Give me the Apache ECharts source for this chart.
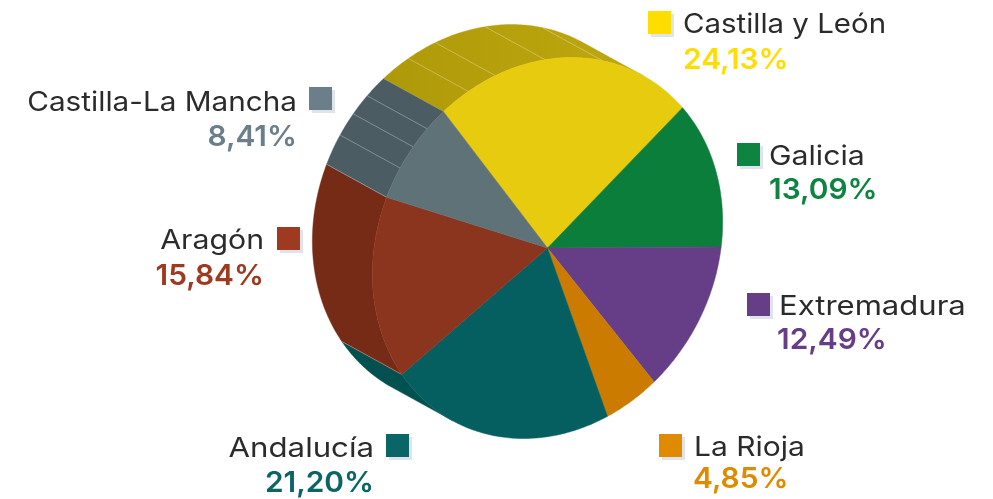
<!DOCTYPE html>
<html><head><meta charset="utf-8">
<style>html,body{margin:0;padding:0;background:#fff}#c{width:993px;height:499px}</style>
<script src="https://cdn.jsdelivr.net/npm/echarts@6/dist/echarts.min.js"></script>
</head><body><div id="c"></div>
<script>
// --- data ---
const regions = ['Castilla y León','Galicia','Extremadura','La Rioja','Andalucía','Aragón','Castilla-La Mancha'];
const shares = [24.13,13.09,12.49,4.85,21.20,15.84,8.41];
const shareLabels = ['24,13%','13,09%','12,49%','4,85%','21,20%','15,84%','8,41%'];
// --- style ---
const keyColors = ['#FFDD00','#0D8440','#663D87','#E08A00','#0A6566','#9D3A20','#6A7F8A'];
const faceColors = ['#E6CB0E','#0C7E3C','#663D87','#CA7B00','#055F60','#8B351E','#5F7278'];
const sideColors = ['#B7A10C','#09602E','#4E2F68','#9A5E00','#02504F','#752B15','#4B5D63'];
const seams = [[0.11,0.22,0.41,0.63],[],[],[],[],[],[0.31,0.55,0.77]];
// --- layout ---
const CX=547.5, CY=248, R=173.5, RY=190.5, SHEAR=24, DX=-60, DY=-33;
const keys = [
 {x:648,y:11,tx:683,ty:38,vx:683,vy:75,sx:1.09,al:'left'},
 {x:737,y:143,tx:769,ty:170,vx:769,vy:205,sx:1.12,al:'left'},
 {x:747,y:293,tx:779,ty:320,vx:777,vy:355,sx:1.15,al:'left'},
 {x:659,y:434,tx:694,ty:461,vx:693,vy:494,sx:1.11,al:'left'},
 {x:386,y:434,tx:374,ty:462,vx:374,vy:498,sx:1.155,al:'right'},
 {x:277,y:227,tx:264,ty:254,vx:264,vy:291,sx:1.12,al:'right'},
 {x:309,y:87,tx:297,ty:116,vx:297,vy:152,sx:1.10,al:'right'}
];
const total = shares.reduce((a,b)=>a+b,0);
let run=0;
const rows = shares.map((v,i)=>{const r=[1,run,run+v,i];run+=v;return r;});

function project(api,ang){
  const p=api.coord([1,ang]);
  const ux=(p[0]-CX)/R, uy=(p[1]-CY)/R;
  return [CX+R*ux-SHEAR*uy, CY+RY*uy];
}
function arc(api,a,b){
  const n=Math.max(2,Math.ceil((b-a)/0.2)),o=[];
  for(let k=0;k<=n;k++)o.push(project(api,a+(b-a)*k/n));
  return o;
}
// only the part of a slice's rim that faces the extrusion direction is visible
function visibleRuns(pts){
  const out=[];let cur=null;
  for(let k=0;k<pts.length-1;k++){
    const tx=pts[k+1][0]-pts[k][0],ty=pts[k+1][1]-pts[k][1];
    if(tx*DY-ty*DX<0){ if(!cur){cur=[pts[k]];out.push(cur);} cur.push(pts[k+1]); }
    else cur=null;
  }
  return out;
}
function renderSide(params,api){
  const a=api.value(1),b=api.value(2),i=api.value(3);
  const col=sideColors[i];
  const fill=i===0?{type:'linear',x:0,y:0,x2:1,y2:0,colorStops:[{offset:0,color:'#AE9909'},{offset:1,color:'#BFA80E'}]}:col;
  const children=[];
  visibleRuns(arc(api,a,b)).forEach(front=>{
    const back=front.slice().reverse().map(p=>[p[0]+DX,p[1]+DY]);
    children.push({type:'polygon',shape:{points:front.concat(back)},style:{fill:fill,stroke:col,lineWidth:0.4}});
  });
  const lineStyle={stroke:'rgba(255,255,255,0.3)',lineWidth:1};
  seams[i].concat(children.length?[0]:[]).forEach(f=>{
    const p=project(api,a+(b-a)*f);
    children.push({type:'line',shape:{x1:p[0],y1:p[1],x2:p[0]+DX,y2:p[1]+DY},style:lineStyle});
  });
  return {type:'group',children};
}
function renderFace(params,api){
  const a=api.value(1),b=api.value(2),i=api.value(3);
  return {type:'polygon',shape:{points:[[CX,CY]].concat(arc(api,a,b))},
    style:{fill:faceColors[i],stroke:faceColors[i],lineWidth:0.5}};
}
const FONT='Inter';
const graphics=[];
regions.forEach((name,i)=>{
  const k=keys[i];
  graphics.push({type:'rect',shape:{x:k.x+3,y:k.y+3,width:23,height:23},style:{fill:'#DEE3EC'},z:5});
  graphics.push({type:'rect',shape:{x:k.x,y:k.y,width:23,height:23},style:{fill:keyColors[i]},z:6});
  graphics.push({type:'text',x:k.tx,y:k.ty,scaleX:k.sx,z:6,style:{text:name,font:'400 27px '+FONT,fill:'#2B2B2B',textAlign:k.al,textVerticalAlign:'bottom'}});
  graphics.push({type:'text',x:k.vx,y:k.vy,scaleX:1.03,z:6,style:{text:shareLabels[i],font:'600 29px '+FONT,fill:keyColors[i],textAlign:k.al,textVerticalAlign:'bottom'}});
});
const chart=echarts.init(document.getElementById('c'),null,{renderer:'canvas'});
chart.setOption({
  animation:false,
  backgroundColor:'#fff',
  polar:{center:[CX,CY],radius:R},
  angleAxis:{type:'value',min:0,max:total,startAngle:134.3,clockwise:true,show:false},
  radiusAxis:{type:'value',min:0,max:1,show:false},
  graphic:graphics,
  series:[
    {type:'custom',coordinateSystem:'polar',renderItem:renderSide,data:rows,encode:{radius:0,angle:1},clip:false,z:1,silent:true},
    {type:'custom',coordinateSystem:'polar',renderItem:renderFace,data:rows,encode:{radius:0,angle:1},clip:false,z:2,silent:true}
  ]
});
</script></body></html>
